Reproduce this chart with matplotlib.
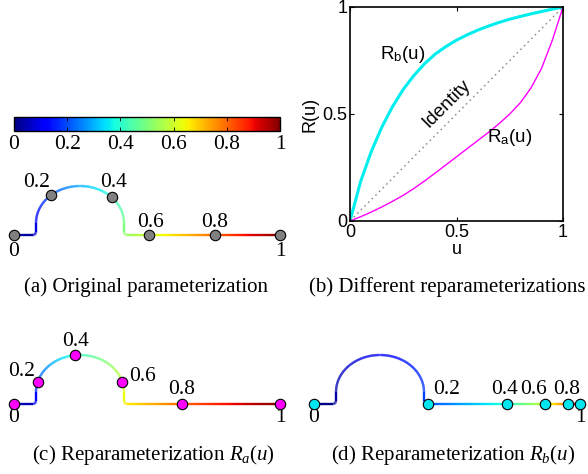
import numpy as np
import matplotlib as mpl
import matplotlib.pyplot as plt
from matplotlib.collections import LineCollection

plt.rcParams['mathtext.fontset'] = 'custom'
plt.rcParams['mathtext.rm'] = 'Liberation Serif'
plt.rcParams['mathtext.it'] = 'Liberation Serif:italic'
plt.rcParams['mathtext.sf'] = 'Liberation Sans'

# reparameterization functions
u = [0, .05, .10, .15, .20, .25, .30, .35, .40, .45, .50,
     .55, .60, .65, .70, .75, .80, .85, .90, .95, 1]
R_a = [0, .02, .042, .066, .092, .12, .152, .187, .224, .262, .30,
       .338, .376, .414, .455, .50, .553, .622, .715, .845, 1]
R_b = [0, .185, .325, .44, .535, .615, .68, .735, .78, .815, .845,
       .87, .892, .911, .928, .943, .956, .968, .979, .99, 1]

# parameter values marked on the curves
params = [0, .2, .4, .6, .8, 1]
# arc-length position of each marked parameter in panels (a), (c), (d)
s_orig = [0, .2, .4, .6, .8, 1]
s_ra = [0, .13, .28, .46, .70, 1]
s_rb = [0, .535, .777, .893, .963, 1]
marker_labels = ['0', '0.2', '0.4', '0.6', '0.8', '1']

# curve shape (pixel units, y up): flat, arch, flat
def build_curve():
    pts = [np.array([[0, 0], [19, 0]])]
    a = np.linspace(-np.pi / 2, 0, 15)
    pts.append(np.c_[19 + 3 * np.cos(a), 3 + 3 * np.sin(a)])
    pts.append(np.array([[22, 3], [22, 12]]))
    a = np.linspace(np.pi, 0, 200)
    pts.append(np.c_[66 + 44 * np.cos(a), 12 + 37 * np.sin(a)])
    pts.append(np.array([[110, 12], [110, 3]]))
    a = np.linspace(np.pi, 1.5 * np.pi, 15)
    pts.append(np.c_[113 + 3 * np.cos(a), 3 + 3 * np.sin(a)])
    hx = np.linspace(113, 266, 150)
    pts.append(np.c_[hx, np.zeros_like(hx)])
    p = np.vstack(pts)
    d = np.r_[0, np.cumsum(np.hypot(np.diff(p[:, 0]), np.diff(p[:, 1])))]
    return p, d / d[-1]

curve, arc = build_curve()

fig = plt.figure(figsize=(5.88, 4.74), dpi=100)
ax0 = fig.add_axes([0, 0, 1, 1])
ax0.set_xlim(0, 588)
ax0.set_ylim(474, 0)
ax0.axis('off')

serif = 'Liberation Serif'
cmap = plt.get_cmap('jet')

panels = [
    # origin, arc positions, marker color, label offsets
    ((14, 235), s_orig, '#808080',
     [(0, 17), (-14, -13), (2, -15), (1, -13), (0, -13), (0, 17)]),
    ((14, 404), s_ra, '#ff00ff',
     [(0, 14), (-16, -11), (0, -14), (20, -6), (0, -15), (0, 14)]),
    ((314, 404), s_rb, '#00e5ee',
     [(0, 13), (19, -15), (-3, -15), (-12, -15), (-1, -15), (0, 13)]),
]

for (ox, oy), s_mark, mcol, offs in panels:
    xs = ox + curve[:, 0]
    ys = oy - curve[:, 1]
    t = np.interp(arc, s_mark, params)
    seg = np.stack([np.c_[xs[:-1], ys[:-1]], np.c_[xs[1:], ys[1:]]], axis=1)
    lc = LineCollection(seg, colors=cmap(0.5 * (t[:-1] + t[1:])), linewidth=1.7)
    ax0.add_collection(lc)
    mx = np.interp(s_mark, arc, xs)
    my = np.interp(s_mark, arc, ys)
    ax0.plot(mx, my, 'o', ms=7.5, mfc=mcol, mec='black', mew=0.8, zorder=5)
    for x, y, lab, (dx, dy) in zip(mx, my, marker_labels, offs):
        ax0.text(x + dx, y + dy, lab, ha='center', va='center',
                 fontsize=15.5, family=serif)

captions = [
    (146, 287, '(a) Original parameterization'),
    (447, 287, '(b) Different reparameterizations'),
    (153, 455, '(c) Reparameterization $R_a(u)$'),
    (453, 455, '(d) Reparameterization $R_b(u)$'),
]
for x, y, txt in captions:
    ax0.text(x, y, txt, ha='center', va='center', fontsize=15, family=serif)

# colorbar
cax = fig.add_axes([14 / 588, 1 - 131 / 474, 266 / 588, 14 / 474])
cb = mpl.colorbar.ColorbarBase(cax, cmap=cmap, norm=mpl.colors.Normalize(0, 1),
                               orientation='horizontal', ticks=params)
cb.set_ticklabels(marker_labels)
cb.outline.set_linewidth(1.0)
cax.tick_params(axis='x', direction='in', top=True, bottom=True, length=3,
                width=0.6, labelsize=15.5, pad=3)
for lab in cax.get_xticklabels():
    lab.set_family(serif)

# panel (b)
ax = fig.add_axes([350 / 588, 1 - 221 / 474, 213 / 588, 214 / 474])
ax.plot(u, u, color='0.55', lw=1.0, ls=(0, (1.2, 2.5)))
ax.plot(u, R_b, color='#00eeee', lw=2.2)
ax.plot(u, R_a, color='#ff00ff', lw=1.0)
ax.set_xlim(0, 1)
ax.set_ylim(0, 1)
ax.set_xticks([0, .5, 1])
ax.set_yticks([0, .5, 1])
ax.set_xticklabels(['0', '0.5', '1'])
ax.set_yticklabels(['0', '0.5', '1'])
sans = 'Liberation Sans'
ax.tick_params(direction='in', top=True, right=True, length=3, width=0.8,
               labelsize=13, pad=2)
for lab in ax.get_xticklabels() + ax.get_yticklabels():
    lab.set_family(sans)
for sp in ax.spines.values():
    sp.set_linewidth(1.2)
ax.set_xlabel('u', fontsize=13, family=sans, labelpad=0)
ax.set_ylabel('R(u)', fontsize=13, family=sans, labelpad=3)
ax.text(0.245, 0.78, r'R$_\mathsf{b}$(u)', fontsize=13.5, family=sans,
        ha='center', va='center')
ax.text(0.645, 0.39, r'R$_\mathsf{a}$(u)', fontsize=13.5, family=sans,
        ha='left', va='center')
ax.text(0.455, 0.55, 'Identity', fontsize=13.5, family=sans, rotation=45,
        ha='center', va='center')

fig.savefig('out.png', dpi=100)
